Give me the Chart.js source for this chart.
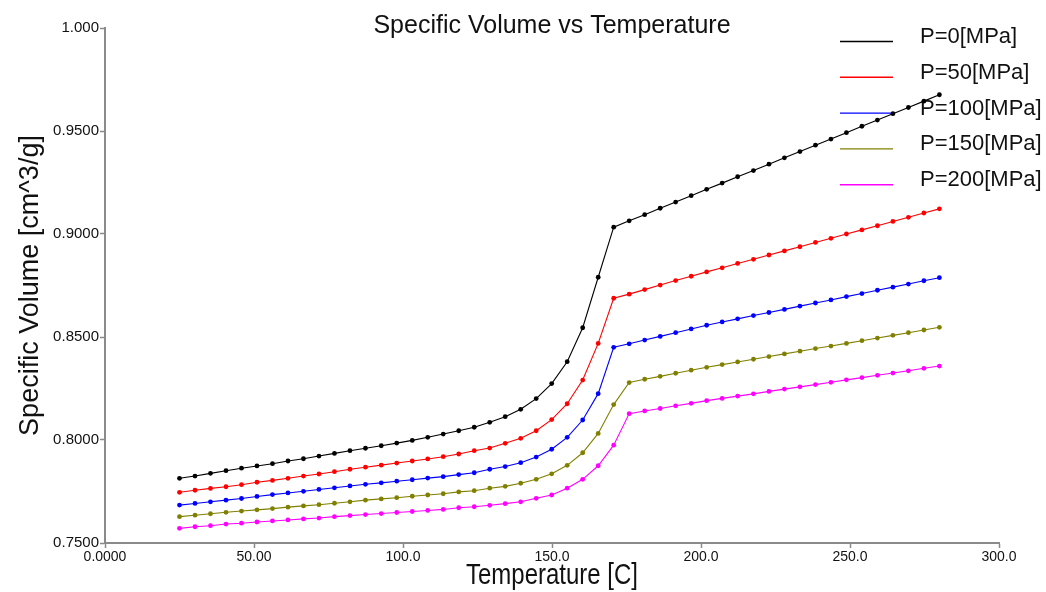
<!DOCTYPE html>
<html>
<head>
<meta charset="utf-8">
<title>Specific Volume vs Temperature</title>
<script src="https://cdn.jsdelivr.net/npm/chart.js@4/dist/chart.umd.min.js"></script>
<style>
  html, body { margin: 0; padding: 0; background: #fff; }
  #wrap { width: 1046px; height: 592px; }
</style>
</head>
<body>
<div id="wrap"><canvas id="chart" width="1046" height="592"></canvas></div>
<script>
// Temperature [C] (x values)
const temps = [
  25.0, 30.2, 35.4, 40.6, 45.8, 51.0, 56.2, 61.4, 66.6, 71.8,
  77.0, 82.2, 87.4, 92.7, 97.9, 103.1, 108.3, 113.5, 118.7, 123.9,
  129.1, 134.3, 139.5, 144.7, 149.9, 155.1, 160.3, 165.5, 170.7, 175.9,
  181.1, 186.3, 191.5, 196.7, 201.9, 207.1, 212.3, 217.6, 222.8, 228.0,
  233.2, 238.4, 243.6, 248.8, 254.0, 259.2, 264.4, 269.6, 274.8, 280.0
];

// Specific volume [cm^3/g] per pressure
const p0 = [
  0.7814, 0.7825, 0.7838, 0.7851, 0.7863, 0.7874, 0.7885, 0.7898, 0.7909, 0.7922,
  0.7935, 0.7948, 0.7960, 0.7972, 0.7985, 0.7998, 0.8013, 0.8029, 0.8045, 0.8062,
  0.8086, 0.8113, 0.8149, 0.8201, 0.8274, 0.8380, 0.8545, 0.8790, 0.9033, 0.9064,
  0.9094, 0.9125, 0.9155, 0.9186, 0.9217, 0.9247, 0.9278, 0.9308, 0.9339, 0.9370,
  0.9400, 0.9431, 0.9461, 0.9492, 0.9523, 0.9553, 0.9584, 0.9614, 0.9645, 0.9676
];
const p50 = [
  0.7746, 0.7756, 0.7765, 0.7773, 0.7783, 0.7795, 0.7804, 0.7814, 0.7825, 0.7835,
  0.7846, 0.7858, 0.7868, 0.7878, 0.7888, 0.7898, 0.7908, 0.7919, 0.7932, 0.7948,
  0.7961, 0.7984, 0.8008, 0.8045, 0.8099, 0.8176, 0.8291, 0.8469, 0.8688, 0.8708,
  0.8730, 0.8752, 0.8774, 0.8795, 0.8816, 0.8836, 0.8857, 0.8877, 0.8898, 0.8918,
  0.8938, 0.8959, 0.8979, 0.9000, 0.9020, 0.9040, 0.9061, 0.9081, 0.9102, 0.9122
];
const p100 = [
  0.7684, 0.7692, 0.7700, 0.7708, 0.7716, 0.7726, 0.7735, 0.7743, 0.7751, 0.7760,
  0.7768, 0.7777, 0.7785, 0.7792, 0.7800, 0.7807, 0.7815, 0.7822, 0.7832, 0.7841,
  0.7858, 0.7871, 0.7890, 0.7917, 0.7955, 0.8013, 0.8097, 0.8225, 0.8450, 0.8467,
  0.8485, 0.8503, 0.8521, 0.8539, 0.8557, 0.8573, 0.8588, 0.8604, 0.8619, 0.8634,
  0.8650, 0.8665, 0.8680, 0.8696, 0.8711, 0.8727, 0.8742, 0.8757, 0.8773, 0.8788
];
const p150 = [
  0.7628, 0.7635, 0.7642, 0.7649, 0.7655, 0.7661, 0.7667, 0.7674, 0.7680, 0.7686,
  0.7693, 0.7700, 0.7708, 0.7714, 0.7720, 0.7727, 0.7733, 0.7739, 0.7748, 0.7754,
  0.7766, 0.7775, 0.7790, 0.7809, 0.7836, 0.7877, 0.7938, 0.8032, 0.8172, 0.8279,
  0.8295, 0.8309, 0.8324, 0.8339, 0.8353, 0.8366, 0.8379, 0.8392, 0.8405, 0.8418,
  0.8431, 0.8444, 0.8456, 0.8469, 0.8482, 0.8495, 0.8508, 0.8521, 0.8534, 0.8547
];
const p200 = [
  0.7571, 0.7579, 0.7584, 0.7592, 0.7596, 0.7602, 0.7607, 0.7612, 0.7617, 0.7621,
  0.7628, 0.7633, 0.7638, 0.7643, 0.7648, 0.7653, 0.7658, 0.7663, 0.7671, 0.7676,
  0.7683, 0.7691, 0.7700, 0.7717, 0.7733, 0.7766, 0.7809, 0.7875, 0.7975, 0.8128,
  0.8141, 0.8153, 0.8166, 0.8178, 0.8191, 0.8202, 0.8213, 0.8224, 0.8236, 0.8247,
  0.8258, 0.8269, 0.8280, 0.8292, 0.8303, 0.8314, 0.8325, 0.8336, 0.8348, 0.8359
];

const seriesNames = ['P=0[MPa]', 'P=50[MPa]', 'P=100[MPa]', 'P=150[MPa]', 'P=200[MPa]'];
const seriesColors = ['#000000', '#ff0000', '#0000ff', '#808000', '#ff00ff'];
const seriesValues = [p0, p50, p100, p150, p200];

const xTickLabels = ['0.0000', '50.00', '100.0', '150.0', '200.0', '250.0', '300.0'];
const yTickLabels = ['0.7500', '0.8000', '0.8500', '0.9000', '0.9500', '1.000'];

const axisGray = '#8a8a8a';
const sans = "'Liberation Sans', Arial, sans-serif";

const datasets = seriesValues.map((vals, i) => ({
  label: seriesNames[i],
  data: temps.map((t, k) => ({ x: t, y: vals[k] })),
  borderColor: seriesColors[i],
  backgroundColor: seriesColors[i],
  borderWidth: 1.1,
  pointRadius: 2.4,
  pointBorderWidth: 0,
  tension: 0
}));

// Chart title and the condensed x axis title
const titlePlugin = {
  id: 'topTitle',
  afterDraw(chart) {
    const ctx = chart.ctx;
    ctx.save();
    ctx.font = '25px ' + sans;
    ctx.fillStyle = '#111';
    ctx.textAlign = 'center';
    ctx.textBaseline = 'middle';
    ctx.fillText('Specific Volume vs Temperature', 552, 26);
    // x title looks narrow in the original, squeeze it a bit
    ctx.translate(552, 576);
    ctx.scale(0.8, 1);
    ctx.font = '30px ' + sans;
    ctx.fillText('Temperature [C]', 0, 0);
    ctx.restore();
  }
};

// Legend sits in the upper right, under the data lines
const legendPlugin = {
  id: 'sideLegend',
  beforeDatasetsDraw(chart) {
    const ctx = chart.ctx;
    ctx.save();
    ctx.font = '22px ' + sans;
    ctx.textBaseline = 'middle';
    ctx.textAlign = 'left';
    chart.data.datasets.forEach((ds, i) => {
      const y = 37 + i * 35.8;
      ctx.strokeStyle = ds.borderColor;
      ctx.lineWidth = 1.4;
      ctx.beginPath();
      ctx.moveTo(840, y + 4.5);
      ctx.lineTo(893, y + 4.5);
      ctx.stroke();
      ctx.fillStyle = '#111';
      ctx.fillText(ds.label, 920, y);
    });
    ctx.restore();
  }
};

new Chart(document.getElementById('chart'), {
  type: 'line',
  data: { datasets },
  options: {
    responsive: false,
    animation: false,
    devicePixelRatio: 1,
    layout: { padding: { top: 28, right: 47, left: 0, bottom: 0 } },
    plugins: {
      legend: { display: false },
      title: { display: false },
      tooltip: { enabled: false }
    },
    scales: {
      x: {
        type: 'linear',
        min: 0,
        max: 300,
        afterFit: s => { s.height = 49; },
        border: { color: axisGray, width: 2 },
        grid: { drawOnChartArea: false, drawTicks: true, tickLength: 5, tickColor: axisGray, tickWidth: 1.5 },
        ticks: {
          stepSize: 50,
          maxRotation: 0,
          autoSkip: false,
          padding: 1,
          color: '#111',
          font: { family: sans, size: 14 },
          callback: v => xTickLabels[Math.round(v / 50)]
        }
      },
      y: {
        type: 'linear',
        min: 0.75,
        max: 1.0,
        afterFit: s => { s.width = 105; },
        border: { color: axisGray, width: 2 },
        grid: { drawOnChartArea: false, drawTicks: true, tickLength: 5, tickColor: axisGray, tickWidth: 1.5 },
        ticks: {
          stepSize: 0.05,
          padding: 1,
          color: '#111',
          font: { family: sans, size: 15 },
          callback: v => yTickLabels[Math.round((v - 0.75) / 0.05)]
        },
        title: {
          display: true,
          text: 'Specific Volume [cm^3/g]',
          color: '#111',
          font: { family: sans, size: 27 },
          padding: { top: 14, bottom: 0 }
        }
      }
    }
  },
  plugins: [titlePlugin, legendPlugin]
});
</script>
</body>
</html>
